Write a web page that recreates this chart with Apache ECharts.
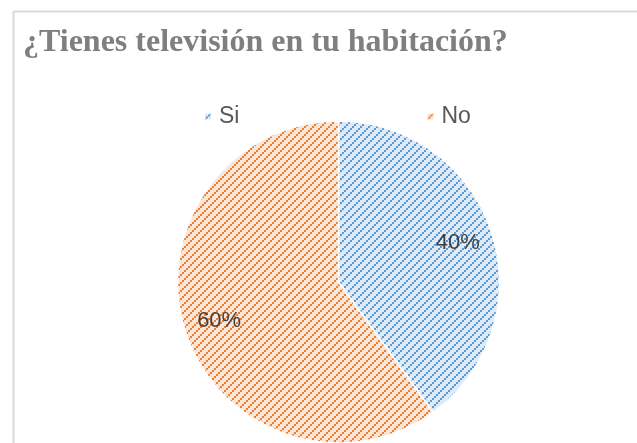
<!DOCTYPE html>
<html>
<head>
<meta charset="utf-8">
<script src="https://cdn.jsdelivr.net/npm/echarts@6/dist/echarts.min.js"></script>
<style>
  html, body { margin: 0; padding: 0; background: #fff; }
  #chart { width: 637px; height: 443px; }
</style>
</head>
<body>
<div id="chart"></div>
<script>
var titleText = '¿Tienes televisión en tu habitación?';
var categories = ['Si', 'No'];
var values = [40, 60];
var stripeColors = ['#5b9bd5', '#ed7d31'];
var backColors = ['#deebf7', '#fbe5d6'];

// hatched fill like the office "wide upward diagonal" pattern
function hatch(bg, fg) {
  var c = document.createElement('canvas');
  c.width = 8; c.height = 8;
  var ctx = c.getContext('2d');
  ctx.fillStyle = bg;
  ctx.fillRect(0, 0, 8, 8);
  ctx.fillStyle = fg;
  for (var i = 0; i < 4; i++) {
    ctx.fillRect(i * 2, 6 - i * 2, 2, 2);
  }
  return { image: c, repeat: 'repeat' };
}

var fills = categories.map(function (n, i) { return hatch(backColors[i], stripeColors[i]); });

var chart = echarts.init(document.getElementById('chart'));

var option = {
  animation: false,
  title: {
    text: titleText,
    left: 18,
    top: 22,
    textStyle: { fontFamily: 'Liberation Serif', fontWeight: 'bold', fontSize: 32, color: '#7f7f7f' }
  },
  legend: {
    left: 198,
    top: 100,
    itemWidth: 8,
    itemHeight: 8,
    itemGap: 186,
    icon: 'rect',
    textStyle: { fontFamily: 'Liberation Sans', fontSize: 23, color: '#595959', padding: [0, 0, 0, 2] }
  },
  graphic: [
    { type: 'line', shape: { x1: 13.5, y1: 11.5, x2: 637, y2: 11.5 }, style: { stroke: '#d9d9d9', lineWidth: 2 } },
    { type: 'line', shape: { x1: 13.5, y1: 11.5, x2: 13.5, y2: 443 }, style: { stroke: '#d9d9d9', lineWidth: 2 } }
  ],
  series: [
    {
      type: 'pie',
      center: [338.5, 282],
      radius: 161,
      startAngle: 90,
      clockwise: true,
      silent: true,
      label: { show: false },
      labelLine: { show: false },
      itemStyle: { borderColor: '#fff', borderWidth: 1.5 },
      data: categories.map(function (n, i) {
        return { name: n, value: values[i], itemStyle: { color: fills[i] } };
      })
    },
    {
      // label carrier only: puts the percentages out near the rim
      type: 'pie',
      center: [338.5, 282],
      radius: [84, 161],
      startAngle: 90,
      clockwise: true,
      silent: true,
      legendHoverLink: false,
      itemStyle: { color: 'rgba(0,0,0,0)' },
      label: {
        show: true,
        position: 'inside',
        formatter: '{d}%',
        fontFamily: 'Liberation Sans',
        fontSize: 22,
        color: '#404040'
      },
      data: categories.map(function (n, i) {
        return { name: n + ' ', value: values[i] };
      })
    }
  ]
};

option.legend.data = categories.map(function (n, i) {
  return { name: n, itemStyle: { color: fills[i] } };
});

chart.setOption(option);
</script>
</body>
</html>
